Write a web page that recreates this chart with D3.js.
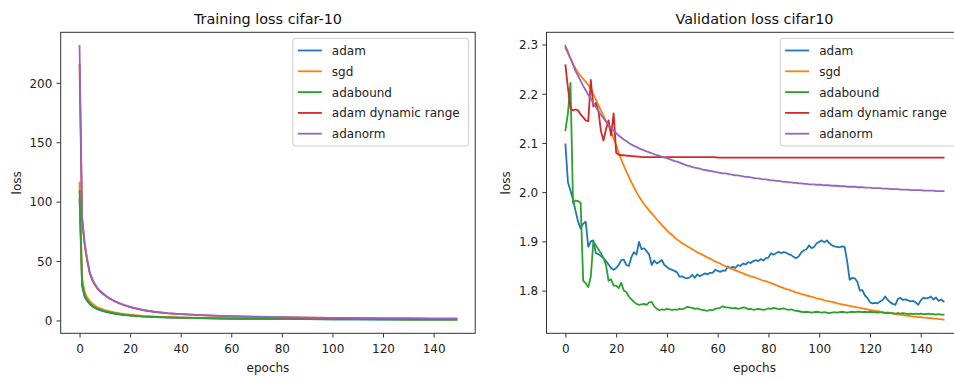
<html>
<head>
<script src="https://d3js.org/d3.v7.min.js"></script>
<style>
    body { margin: 0; background: #ffffff; }
    svg { display: block; font-family: 'DejaVu Sans', sans-serif; }
    .spine { fill: none; stroke: #333333; stroke-width: 1px; }
    .curve { fill: none; stroke-width: 1.8px; stroke-linejoin: round; stroke-linecap: square; }
    .title { font-size: 14.4px; fill: #111111; }
    .label { font-size: 12px; fill: #222222; }
    .legend-box { fill: #ffffff; fill-opacity: 0.8; stroke: #cccccc; stroke-width: 1px; }
    .legend-text { font-size: 12px; fill: #222222; }
</style>
</head>
<body>

<svg id='the-chart' width=954 height=379></svg>

<script>

    var names = ['adam', 'sgd', 'adabound', 'adam dynamic range', 'adanorm'];
    var colors = ['#1f77b4', '#ff7f0e', '#2ca02c', '#d62728', '#9467bd'];
    var xTicks = [0, 20, 40, 60, 80, 100, 120, 140];
    var trainYTicks = [0, 50, 100, 150, 200];
    var valYTicks = [1.8, 1.9, 2.0, 2.1, 2.2, 2.3];

    // training loss, read at these epochs
    var trainEpochs = [0, 1, 2, 3, 4, 5, 6, 7, 8, 9, 10, 12, 14, 16, 18, 20, 25, 30, 35, 40,
        50, 60, 70, 80, 90, 100, 110, 120, 130, 140, 149];
    var trainAdam = [102, 29, 20, 16.5, 13.8, 11.9, 10.5, 9.5, 8.7, 8.0, 7.4, 6.4, 5.6, 5.0, 4.5, 4.1, 3.3, 2.8, 2.4, 2.1,
        1.7, 1.45, 1.3, 1.15, 1.05, 0.95, 0.88, 0.82, 0.77, 0.72, 0.7];
    var trainSgd = [116, 36, 24, 19.5, 16.5, 14.3, 12.6, 11.3, 10.3, 9.5, 8.8, 7.6, 6.7, 5.9, 5.3, 4.8, 3.9, 3.3, 2.9, 2.6,
        2.1, 1.8, 1.6, 1.45, 1.35, 1.25, 1.15, 1.08, 1.0, 0.95, 0.9];
    var trainAdabound = [109, 31, 21, 17.5, 14.5, 12.5, 11, 10, 9.2, 8.5, 7.8, 6.8, 6.0, 5.3, 4.7, 4.3, 3.5, 3.0, 2.6, 2.3,
        1.9, 1.6, 1.4, 1.25, 1.12, 1.02, 0.94, 0.87, 0.81, 0.76, 0.72];
    var trainDynamic = [215, 85, 64, 50.5, 40, 34.2, 30.3, 27, 24.6, 22.9, 21.1, 18.2, 16, 14.1, 12.6, 11.3, 8.7, 7.1, 6.0, 5.3,
        4.2, 3.5, 3.0, 2.6, 2.3, 2.1, 1.9, 1.8, 1.7, 1.6, 1.5];
    var trainAdanorm = [231, 88, 66, 52, 41, 35, 31, 27.5, 25, 23.3, 21.5, 18.5, 16.2, 14.3, 12.8, 11.5, 8.8, 7.2, 6.1, 5.4,
        4.3, 3.6, 3.1, 2.7, 2.4, 2.2, 2.0, 1.8, 1.7, 1.6, 1.5];

    // validation loss, one value per epoch 0..149
    var valAdam = [
        2.097, 2.020, 2.003, 1.985, 1.962, 1.940, 1.926, 1.936, 1.940, 1.889,
        1.900, 1.902, 1.876, 1.874, 1.870, 1.866, 1.860, 1.853, 1.846, 1.842,
        1.846, 1.852, 1.862, 1.863, 1.852, 1.850, 1.868, 1.878, 1.873, 1.899,
        1.884, 1.886, 1.880, 1.873, 1.852, 1.861, 1.855, 1.858, 1.862, 1.852,
        1.848, 1.844, 1.842, 1.840, 1.837, 1.828, 1.829, 1.826, 1.825, 1.827,
        1.832, 1.826, 1.833, 1.829, 1.832, 1.835, 1.833, 1.836, 1.836, 1.842,
        1.840, 1.838, 1.841, 1.840, 1.849, 1.846, 1.848, 1.846, 1.852, 1.850,
        1.855, 1.853, 1.858, 1.856, 1.860, 1.862, 1.860, 1.864, 1.861, 1.866,
        1.867, 1.876, 1.873, 1.876, 1.879, 1.876, 1.878, 1.877, 1.874, 1.872,
        1.868, 1.866, 1.870, 1.878, 1.882, 1.884, 1.892, 1.886, 1.889, 1.896,
        1.899, 1.902, 1.898, 1.902, 1.896, 1.892, 1.890, 1.889, 1.888, 1.890,
        1.889, 1.860, 1.822, 1.826, 1.825, 1.818, 1.800, 1.801, 1.790, 1.785,
        1.776, 1.774, 1.775, 1.774, 1.778, 1.781, 1.788, 1.781, 1.776, 1.773,
        1.771, 1.783, 1.785, 1.781, 1.782, 1.780, 1.778, 1.779, 1.776, 1.771,
        1.780, 1.785, 1.784, 1.785, 1.788, 1.782, 1.786, 1.779, 1.782, 1.778];
    var valSgd = [
        2.293, 2.282, 2.271, 2.261, 2.251, 2.243, 2.236, 2.230, 2.224, 2.218,
        2.210, 2.199, 2.188, 2.177, 2.166, 2.155, 2.145, 2.135, 2.124, 2.109,
        2.095, 2.080, 2.066, 2.054, 2.042, 2.031, 2.020, 2.010, 2.000, 1.991,
        1.983, 1.976, 1.969, 1.963, 1.957, 1.951, 1.945, 1.939, 1.933, 1.928,
        1.922, 1.917, 1.913, 1.908, 1.904, 1.900, 1.896, 1.893, 1.890, 1.887,
        1.884, 1.881, 1.878, 1.875, 1.873, 1.870, 1.867, 1.865, 1.862, 1.859,
        1.857, 1.855, 1.852, 1.850, 1.847, 1.845, 1.843, 1.841, 1.839, 1.837,
        1.835, 1.833, 1.831, 1.829, 1.828, 1.826, 1.824, 1.822, 1.820, 1.819,
        1.817, 1.815, 1.813, 1.811, 1.809, 1.807, 1.805, 1.803, 1.802, 1.800,
        1.798, 1.796, 1.795, 1.793, 1.792, 1.790, 1.789, 1.787, 1.786, 1.784,
        1.783, 1.782, 1.780, 1.779, 1.778, 1.777, 1.776, 1.774, 1.773, 1.772,
        1.771, 1.770, 1.769, 1.768, 1.767, 1.766, 1.765, 1.764, 1.763, 1.762,
        1.761, 1.760, 1.759, 1.758, 1.757, 1.756, 1.755, 1.755, 1.754, 1.753,
        1.752, 1.751, 1.751, 1.750, 1.749, 1.749, 1.748, 1.747, 1.747, 1.746,
        1.746, 1.745, 1.745, 1.744, 1.744, 1.743, 1.743, 1.742, 1.742, 1.741];
    var valAdabound = [
        2.126, 2.160, 2.222, 1.978, 1.983, 1.982, 1.978, 1.820, 1.815, 1.807,
        1.828, 1.899, 1.892, 1.884, 1.876, 1.866, 1.852, 1.820, 1.823, 1.810,
        1.810, 1.805, 1.816, 1.800, 1.797, 1.788, 1.782, 1.777, 1.773, 1.771,
        1.772, 1.773, 1.771, 1.776, 1.777, 1.768, 1.763, 1.760, 1.762, 1.761,
        1.763, 1.762, 1.760, 1.762, 1.761, 1.763, 1.762, 1.764, 1.767, 1.766,
        1.765, 1.763, 1.764, 1.762, 1.761, 1.760, 1.759, 1.761, 1.760, 1.763,
        1.764, 1.765, 1.768, 1.766, 1.766, 1.765, 1.764, 1.765, 1.763, 1.764,
        1.766, 1.765, 1.762, 1.763, 1.761, 1.762, 1.763, 1.762, 1.761, 1.762,
        1.764, 1.763, 1.765, 1.764, 1.762, 1.763, 1.764, 1.762, 1.761, 1.762,
        1.760, 1.759, 1.758, 1.757, 1.756, 1.757, 1.756, 1.755, 1.756, 1.757,
        1.756, 1.755, 1.756, 1.755, 1.754, 1.755, 1.756, 1.755, 1.756, 1.757,
        1.756, 1.755, 1.756, 1.757, 1.756, 1.757, 1.757, 1.756, 1.757, 1.756,
        1.757, 1.756, 1.756, 1.755, 1.756, 1.755, 1.754, 1.755, 1.754, 1.754,
        1.753, 1.754, 1.753, 1.754, 1.753, 1.752, 1.753, 1.752, 1.753, 1.752,
        1.753, 1.752, 1.752, 1.753, 1.752, 1.752, 1.751, 1.752, 1.751, 1.751];
    var valDynamic = [
        2.258, 2.212, 2.170, 2.166, 2.168, 2.166, 2.158, 2.152, 2.146, 2.144,
        2.228, 2.174, 2.181, 2.165, 2.124, 2.105, 2.128, 2.146, 2.115, 2.160,
        2.080, 2.076, 2.075, 2.075, 2.074, 2.074, 2.073, 2.073, 2.072, 2.072,
        2.071, 2.071, 2.071, 2.071, 2.071, 2.071, 2.071, 2.071, 2.071, 2.071,
        2.071, 2.071, 2.071, 2.071, 2.071, 2.071, 2.071, 2.071, 2.071, 2.071,
        2.071, 2.071, 2.071, 2.071, 2.071, 2.071, 2.071, 2.071, 2.071, 2.071,
        2.070, 2.070, 2.070, 2.070, 2.070, 2.070, 2.070, 2.070, 2.070, 2.070,
        2.070, 2.070, 2.070, 2.070, 2.070, 2.070, 2.070, 2.070, 2.070, 2.070,
        2.070, 2.070, 2.070, 2.070, 2.070, 2.070, 2.070, 2.070, 2.070, 2.070,
        2.070, 2.070, 2.070, 2.070, 2.070, 2.070, 2.070, 2.070, 2.070, 2.070,
        2.070, 2.070, 2.070, 2.070, 2.070, 2.070, 2.070, 2.070, 2.070, 2.070,
        2.070, 2.070, 2.070, 2.070, 2.070, 2.070, 2.070, 2.070, 2.070, 2.070,
        2.070, 2.070, 2.070, 2.070, 2.070, 2.070, 2.070, 2.070, 2.070, 2.070,
        2.070, 2.070, 2.070, 2.070, 2.070, 2.070, 2.070, 2.070, 2.070, 2.070,
        2.070, 2.070, 2.070, 2.070, 2.070, 2.070, 2.070, 2.070, 2.070, 2.070];
    var valAdanorm = [
        2.297, 2.285, 2.272, 2.259, 2.246, 2.236, 2.226, 2.216, 2.207, 2.198,
        2.190, 2.181, 2.173, 2.165, 2.157, 2.150, 2.143, 2.137, 2.131, 2.125,
        2.120, 2.115, 2.111, 2.107, 2.104, 2.100, 2.097, 2.094, 2.092, 2.089,
        2.087, 2.085, 2.083, 2.081, 2.079, 2.077, 2.075, 2.074, 2.072, 2.070,
        2.069, 2.067, 2.065, 2.063, 2.062, 2.060, 2.058, 2.056, 2.054, 2.053,
        2.051, 2.050, 2.049, 2.048, 2.046, 2.045, 2.044, 2.043, 2.042, 2.041,
        2.040, 2.039, 2.038, 2.038, 2.037, 2.036, 2.035, 2.034, 2.034, 2.033,
        2.032, 2.031, 2.031, 2.030, 2.029, 2.028, 2.028, 2.027, 2.026, 2.026,
        2.025, 2.024, 2.024, 2.023, 2.023, 2.022, 2.021, 2.021, 2.020, 2.020,
        2.019, 2.019, 2.018, 2.018, 2.017, 2.017, 2.016, 2.016, 2.016, 2.015,
        2.015, 2.015, 2.014, 2.014, 2.014, 2.013, 2.013, 2.013, 2.012, 2.012,
        2.012, 2.011, 2.011, 2.011, 2.011, 2.010, 2.010, 2.010, 2.009, 2.009,
        2.009, 2.008, 2.008, 2.008, 2.008, 2.007, 2.007, 2.007, 2.006, 2.006,
        2.006, 2.006, 2.005, 2.005, 2.005, 2.005, 2.004, 2.004, 2.004, 2.004,
        2.004, 2.003, 2.003, 2.003, 2.003, 2.003, 2.002, 2.002, 2.002, 2.002];
    var valEpochs = d3.range(valAdam.length);

    var svg = d3.select('#the-chart');

    // pad a domain by 5% on each side, like matplotlib's default margins
    function padded(ext) {
        var m = (ext[1] - ext[0]) * 0.05;
        return [ext[0] - m, ext[1] + m];
    }

    function drawPanel(id, box, title, epochs, series, yTicks, yFmt, yLabelX) {
        var allY = [].concat.apply([], series);

        var xscale = d3.scaleLinear()
            .domain(padded(d3.extent(epochs)))
            .range([box.left, box.right]);

        var yscale = d3.scaleLinear()
            .domain(padded(d3.extent(allY)))
            .range([box.bottom, box.top]);

        svg.append('clipPath').attr('id', 'clip-' + id)
            .append('rect')
            .attr('x', box.left).attr('y', box.top)
            .attr('width', box.right - box.left)
            .attr('height', box.bottom - box.top);

        var xa = svg.append('g')
            .attr('transform', 'translate(0,' + box.bottom + ')')
            .call(d3.axisBottom(xscale).tickValues(xTicks).tickSize(4.2).tickPadding(5.5));
        var ya = svg.append('g')
            .attr('transform', 'translate(' + box.left + ',0)')
            .call(d3.axisLeft(yscale).tickValues(yTicks).tickFormat(yFmt).tickSize(4.2).tickPadding(4.2));

        [xa, ya].forEach(function(a) {
            a.attr('font-family', null).attr('font-size', null);
            a.select('.domain').remove();
            a.selectAll('.tick line').attr('stroke', '#333333').attr('stroke-width', 1);
            a.selectAll('.tick text').attr('fill', '#222222').style('font-size', '12px');
        });
        xa.selectAll('.tick text').attr('dy', '0.8em');
        ya.selectAll('.tick text').attr('dy', '0.36em');

        var line = d3.line()
            .x(function(d, i) { return xscale(epochs[i]); })
            .y(function(d) { return yscale(d); });

        svg.append('g')
            .attr('clip-path', 'url(#clip-' + id + ')')
            .selectAll('path')
            .data(series)
            .enter().append('path')
            .attr('class', 'curve')
            .attr('stroke', function(d, i) { return colors[i]; })
            .attr('d', line);

        svg.append('rect')
            .attr('class', 'spine')
            .attr('x', box.left).attr('y', box.top)
            .attr('width', box.right - box.left)
            .attr('height', box.bottom - box.top);

        var cx = (box.left + box.right) / 2;
        svg.append('text').attr('class', 'title')
            .attr('x', cx).attr('y', 24)
            .attr('text-anchor', 'middle')
            .text(title);

        svg.append('text').attr('class', 'label')
            .attr('x', cx).attr('y', 372)
            .attr('text-anchor', 'middle')
            .text('epochs');

        svg.append('text').attr('class', 'label')
            .attr('transform', 'translate(' + yLabelX + ',' + ((box.top + box.bottom) / 2) + ') rotate(-90)')
            .attr('text-anchor', 'middle')
            .text('loss');

        // legend, upper right
        var lg = svg.append('g');
        var rows = lg.selectAll('g.row')
            .data(names)
            .enter().append('g')
            .attr('class', 'row');

        var top = box.top + 6;
        var rowY = function(i) { return top + 12.2 + i * 20.8; };

        var texts = rows.append('text')
            .attr('class', 'legend-text')
            .attr('y', function(d, i) { return rowY(i) + 4.5; })
            .text(function(d) { return d; });

        var textW = d3.max(texts.nodes(), function(n) { return n.getComputedTextLength(); });
        var boxW = textW + 48;
        var boxH = 107.7;
        var left = box.right - 6.5 - boxW;

        lg.insert('rect', ':first-child')
            .attr('class', 'legend-box')
            .attr('x', left).attr('y', top)
            .attr('width', boxW).attr('height', boxH)
            .attr('rx', 3).attr('ry', 3);

        rows.insert('line', 'text')
            .attr('x1', left + 5).attr('x2', left + 5 + 24)
            .attr('y1', function(d, i) { return rowY(i); })
            .attr('y2', function(d, i) { return rowY(i); })
            .attr('stroke', function(d, i) { return colors[i]; })
            .attr('stroke-width', 1.8);

        texts.attr('x', left + 5 + 24 + 10);
    }

    drawPanel('train', { left: 60.7, right: 475.2, top: 32.3, bottom: 333.3 },
        'Training loss cifar-10', trainEpochs,
        [trainAdam, trainSgd, trainAdabound, trainDynamic, trainAdanorm],
        trainYTicks, d3.format('d'), 20.5);

    drawPanel('val', { left: 546.5, right: 962.5, top: 32.3, bottom: 333.3 },
        'Validation loss cifar10', valEpochs,
        [valAdam, valSgd, valAdabound, valDynamic, valAdanorm],
        valYTicks, d3.format('.1f'), 510);

</script>
</body>
</html>
